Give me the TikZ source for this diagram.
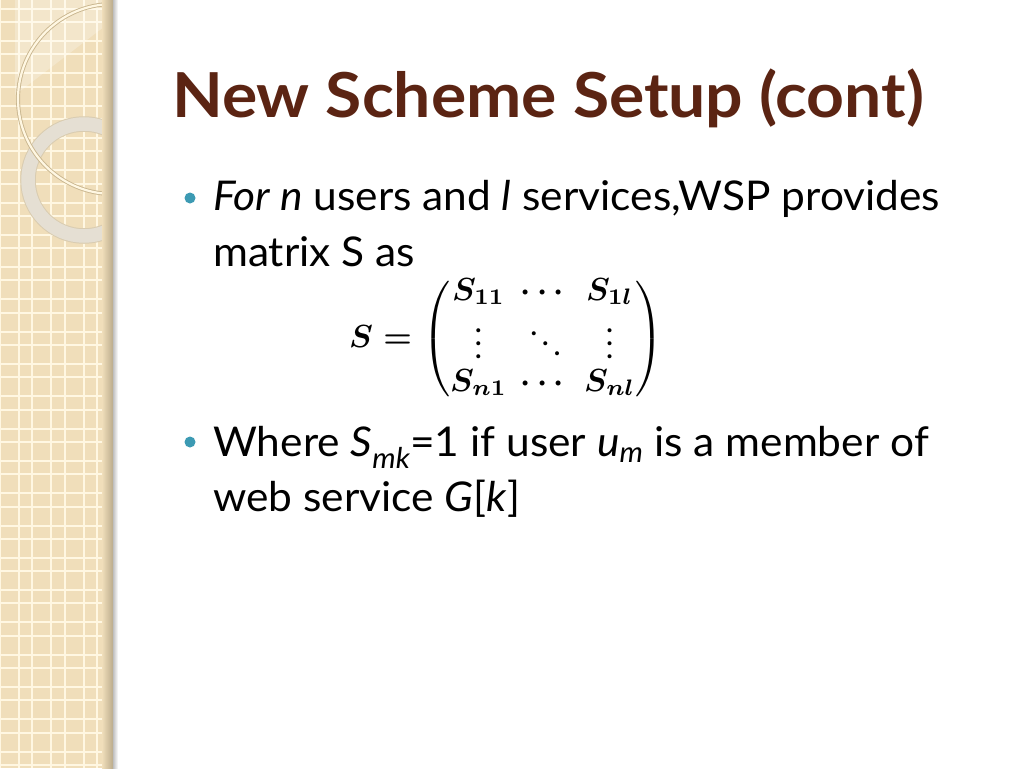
\documentclass[tikz,border=0pt]{standalone}
\usepackage{amsmath}
\usepackage{amssymb}
\usepackage{fontspec}
\setmainfont{Lato}
\newfontfamily\bodyfont[FakeStretch=1.035]{Lato}
\newfontfamily\headfont[FakeStretch=1.065]{Lato}
\usepackage{tikz}
\usetikzlibrary{positioning}

\definecolor{stripbg}{HTML}{F0DEBA}
\definecolor{stripline}{HTML}{FFF7E2}
\definecolor{stripedge}{HTML}{C9B68F}
\definecolor{ringgray}{HTML}{E6E1D5}
\definecolor{titlebrown}{HTML}{5B2413}
\definecolor{bulletteal}{HTML}{3C9AB3}

\tikzset{
  slidetext/.style  = {inner sep=0pt, anchor=base west, font=\bodyfont\fontsize{41}{53}\selectfont},
  slidetitle/.style = {inner sep=0pt, anchor=base west, text=titlebrown, font=\headfont\fontsize{62}{70}\selectfont\bfseries},
  bulletdot/.style  = {circle, fill=bulletteal, inner sep=0pt, minimum size=11pt},
}

\begin{document}
\begin{tikzpicture}[x=1pt, y=-1pt]

\useasboundingbox (0,0) rectangle (1024,768);
\fill [white] (0,0) rectangle (1024,768);

\begin{scope}
\clip (0,0) rectangle (113,768);
\fill [stripbg] (0,0) rectangle (113,768);
\foreach \gx in {0,32.3,...,130} {
  \draw [stripline, line width=2pt] (\gx,0) -- (\gx,768);
  \draw [stripline, line width=2pt] (\gx+19,0) -- (\gx+19,768);
}
\foreach \gy in {-10.3,22,...,780} {
  \draw [stripline, line width=2pt] (0,\gy) -- (113,\gy);
  \draw [stripline, line width=2pt] (0,\gy+19) -- (113,\gy+19);
}
\fill [white, opacity=0.25] (113,0) -- (113,20) -- (15,95) -- (15,0) -- cycle;
\draw [stripedge!70, line width=15.5pt] (84,180) circle (56);
\draw [ringgray, opacity=0.95, line width=13.5pt] (84,180) circle (56);
\draw [stripedge, line width=4pt] (113,99) circle (95);
\draw [stripline, line width=2.2pt] (113,99) circle (95);
\shade [left color=stripbg, right color=stripedge!80!gray] (102,0) rectangle (113,768);
\end{scope}
\shade [left color=black!25, right color=white] (113,0) rectangle (118,768);

\node [slidetitle] (title) at (172,117) {New Scheme Setup (cont)};

\node [bulletdot] (dotA) at (190,198) {};
\node [slidetext] (itemA) at (213,210) {\textit{For n} users and \textit{l} services,WSP provides};
\node [slidetext, below=56pt of itemA.base west, anchor=base west] (itemAb) {matrix S as};

\node [inner sep=0pt, anchor=west] (matS) at (349,339)
  {\scalebox{3.2}{\boldmath\setlength{\arraycolsep}{2.2pt}\renewcommand{\arraystretch}{0.85}$S=\begin{pmatrix}
     S_{11} & \cdots & S_{1l}\\
     \vdots & \ddots & \vdots\\
     S_{n1} & \cdots & S_{nl}
   \end{pmatrix}$}};

\node [bulletdot] (dotB) at (190,442) {};
\node [slidetext] (itemB) at (213,456) {Where \textit{S\textsubscript{mk}}=1 if user \textit{u\textsubscript{m}} is a member of};
\node [slidetext, below=55pt of itemB.base west, anchor=base west] (itemBb) {web service \textit{G}[\textit{k}]};

\end{tikzpicture}
\end{document}
